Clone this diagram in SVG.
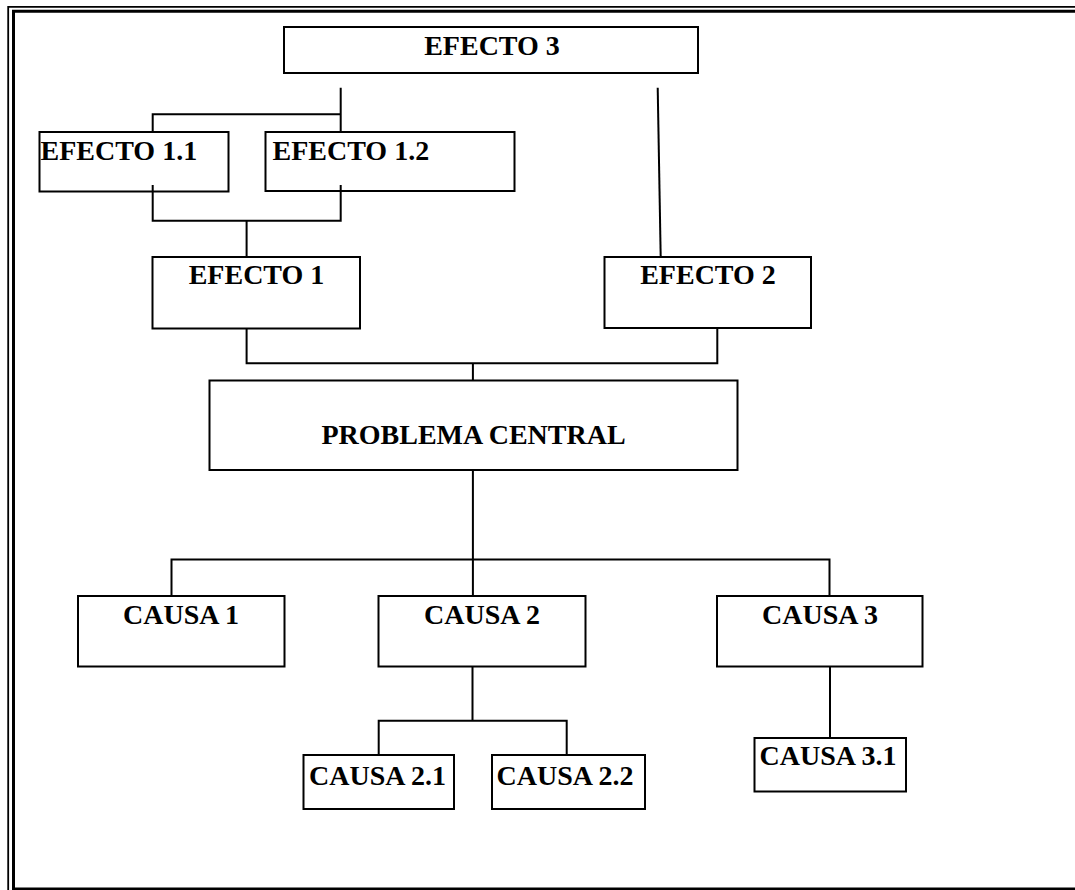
<svg xmlns="http://www.w3.org/2000/svg" width="1075" height="890" viewBox="0 0 1075 890">
<style>
.box{fill:#fff;stroke:#000;stroke-width:2}
.lbl{font-family:"Liberation Serif","Times New Roman",serif;font-weight:bold;font-size:28px;fill:#000}
.c{text-anchor:middle}
.ln{fill:none;stroke:#000;stroke-width:2}
.frame{fill:none;stroke:#000}
</style>
<rect width="1075" height="890" fill="#fff"/>
<g id="frame">
<path class="frame" stroke-width="1.8" d="M8.2,890 V6.8 H1075"/>
<path class="frame" stroke-width="3" d="M13.5,888.5 V11.3 H1075"/>
<path class="frame" stroke-width="2.5" d="M12,888.7 H1075"/>
</g>
<g id="efecto3"><rect class="box" x="284" y="27" width="414" height="46"/><text class="lbl c" x="492" y="55">EFECTO 3</text></g>
<g id="efecto11"><rect class="box" x="39.5" y="132" width="189" height="59.5"/><text class="lbl" x="40.5" y="159.5">EFECTO 1.1</text></g>
<g id="efecto12"><rect class="box" x="265.5" y="132" width="249" height="59"/><text class="lbl" x="272.5" y="159.5">EFECTO 1.2</text></g>
<g id="efecto1"><rect class="box" x="152.5" y="257" width="207.5" height="71.5"/><text class="lbl c" x="256.5" y="284">EFECTO 1</text></g>
<g id="efecto2"><rect class="box" x="604.5" y="257" width="206.5" height="71"/><text class="lbl c" x="708" y="284">EFECTO 2</text></g>
<g id="problema"><rect class="box" x="209.5" y="380.5" width="528" height="89.5"/><text class="lbl c" x="473.5" y="444">PROBLEMA CENTRAL</text></g>
<g id="causa1"><rect class="box" x="78" y="596" width="206.5" height="70.5"/><text class="lbl c" x="181" y="623.5">CAUSA 1</text></g>
<g id="causa2"><rect class="box" x="378.5" y="596" width="207" height="70.5"/><text class="lbl c" x="482" y="623.5">CAUSA 2</text></g>
<g id="causa3"><rect class="box" x="717" y="596" width="205.5" height="70.5"/><text class="lbl c" x="820" y="623.5">CAUSA 3</text></g>
<g id="causa21"><rect class="box" x="303.5" y="755" width="150.5" height="54"/><text class="lbl" x="309" y="784.5">CAUSA 2.1</text></g>
<g id="causa22"><rect class="box" x="492" y="755" width="153" height="54"/><text class="lbl" x="496.5" y="784.5">CAUSA 2.2</text></g>
<g id="causa31"><rect class="box" x="754.5" y="738" width="151.5" height="53.5"/><text class="lbl" x="759.5" y="765">CAUSA 3.1</text></g>
<g id="connectors">
<path class="ln" d="M340.7,87.7 V132 M152.7,132 V114.3 H340.7"/>
<path class="ln" d="M657.7,87.7 L660.7,257"/>
<path class="ln" d="M152.7,185 V220.7 H340.7 V185 M246.6,220.7 V257"/>
<path class="ln" d="M246.6,328.5 V363.3 H717.3 V328 M472.9,363.3 V380.5"/>
<path class="ln" d="M472.9,470 V559.5 M171.5,596 V559.5 H829.5 V596 M472.9,559.5 V596"/>
<path class="ln" d="M472.5,666.5 V720.7 M378.7,755 V720.7 H566.7 V755"/>
<path class="ln" d="M830,666.5 V738"/>
</g>
</svg>
